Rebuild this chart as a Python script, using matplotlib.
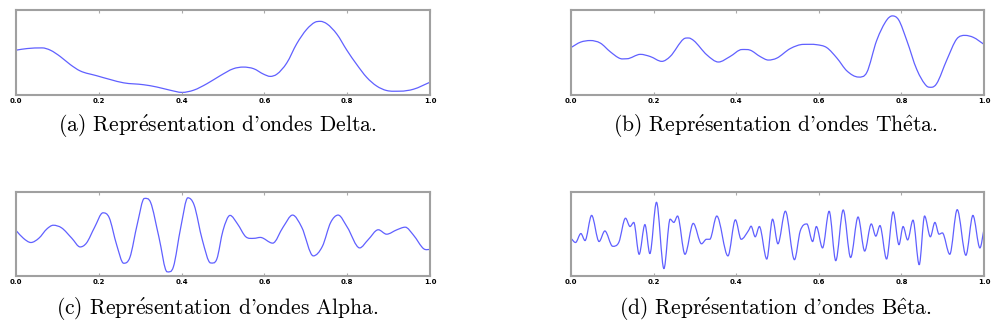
import matplotlib
matplotlib.use("Agg")
import matplotlib.pyplot as plt
import numpy as np
from matplotlib.path import Path
from matplotlib.patches import PathPatch

# --- values (time fraction, normalised amplitude) ---
delta_t = [0.000, 0.027, 0.063, 0.083, 0.107, 0.131, 0.155, 0.195, 0.228, 0.260,
           0.308, 0.340, 0.372, 0.401, 0.429, 0.461, 0.493, 0.525, 0.549, 0.574,
           0.598, 0.614, 0.630, 0.654, 0.678, 0.702, 0.722, 0.735, 0.751, 0.775,
           0.799, 0.823, 0.847, 0.871, 0.895, 0.928, 0.960, 1.000]
delta_v = [0.529, 0.549, 0.557, 0.529, 0.451, 0.353, 0.275, 0.216, 0.169, 0.129,
           0.106, 0.078, 0.039, 0.012, 0.039, 0.118, 0.216, 0.302, 0.322, 0.302,
           0.235, 0.208, 0.235, 0.373, 0.608, 0.784, 0.871, 0.882, 0.851, 0.725,
           0.529, 0.353, 0.196, 0.090, 0.035, 0.027, 0.051, 0.137]

theta_t = [0.000, 0.023, 0.047, 0.071, 0.095, 0.119, 0.135, 0.168, 0.192, 0.220,
           0.240, 0.273, 0.285, 0.297, 0.329, 0.357, 0.385, 0.414, 0.434, 0.458,
           0.478, 0.498, 0.531, 0.563, 0.595, 0.619, 0.644, 0.668, 0.696, 0.716,
           0.740, 0.765, 0.778, 0.793, 0.813, 0.837, 0.861, 0.873, 0.885, 0.910,
           0.934, 0.954, 0.974, 1.000]
theta_v = [0.561, 0.627, 0.647, 0.616, 0.510, 0.427, 0.424, 0.478, 0.451, 0.392,
           0.451, 0.667, 0.678, 0.647, 0.471, 0.384, 0.451, 0.537, 0.529, 0.451,
           0.408, 0.431, 0.549, 0.600, 0.596, 0.561, 0.431, 0.275, 0.200, 0.255,
           0.647, 0.902, 0.949, 0.902, 0.647, 0.294, 0.090, 0.075, 0.118, 0.412,
           0.667, 0.710, 0.686, 0.600]

alpha_t = [0.000, 0.018, 0.036, 0.055, 0.075, 0.090, 0.110, 0.135, 0.155, 0.170,
           0.190, 0.210, 0.225, 0.243, 0.260, 0.275, 0.293, 0.310, 0.325, 0.345,
           0.365, 0.380, 0.398, 0.415, 0.430, 0.450, 0.470, 0.485, 0.500, 0.517,
           0.535, 0.555, 0.575, 0.590, 0.620, 0.645, 0.668, 0.690, 0.718, 0.740,
           0.760, 0.778, 0.800, 0.830, 0.850, 0.875, 0.895, 0.920, 0.940, 0.960,
           0.985, 1.000]
alpha_v = [0.545, 0.447, 0.395, 0.447, 0.565, 0.609, 0.577, 0.447, 0.340, 0.387,
           0.585, 0.763, 0.704, 0.368, 0.138, 0.209, 0.625, 0.941, 0.893, 0.466,
           0.032, 0.091, 0.585, 0.949, 0.862, 0.427, 0.142, 0.190, 0.545, 0.731,
           0.625, 0.466, 0.447, 0.458, 0.387, 0.585, 0.735, 0.585, 0.229, 0.348,
           0.644, 0.735, 0.585, 0.328, 0.427, 0.553, 0.498, 0.553, 0.585, 0.486,
           0.316, 0.308]

beta_t = [0.000, 0.011, 0.024, 0.034, 0.050, 0.068, 0.082, 0.101, 0.116, 0.132,
          0.143, 0.152, 0.165, 0.179, 0.191, 0.207, 0.225, 0.240, 0.249, 0.258,
          0.276, 0.296, 0.316, 0.328, 0.336, 0.353, 0.380, 0.398, 0.412, 0.430,
          0.436, 0.446, 0.456, 0.474, 0.488, 0.501, 0.519, 0.541, 0.555, 0.571,
          0.585, 0.594, 0.609, 0.625, 0.641, 0.659, 0.677, 0.695, 0.711, 0.727,
          0.738, 0.748, 0.764, 0.780, 0.794, 0.804, 0.815, 0.828, 0.843, 0.856,
          0.870, 0.881, 0.891, 0.899, 0.917, 0.935, 0.956, 0.973, 0.990, 1.000]
beta_v = [0.447, 0.395, 0.506, 0.419, 0.731, 0.407, 0.538, 0.348, 0.399, 0.696,
          0.593, 0.644, 0.249, 0.617, 0.257, 0.893, 0.071, 0.684, 0.644, 0.723,
          0.249, 0.632, 0.379, 0.435, 0.435, 0.723, 0.229, 0.676, 0.435, 0.545,
          0.597, 0.466, 0.593, 0.190, 0.684, 0.379, 0.783, 0.182, 0.538, 0.625,
          0.407, 0.593, 0.328, 0.783, 0.170, 0.798, 0.209, 0.711, 0.289, 0.625,
          0.474, 0.605, 0.190, 0.775, 0.368, 0.593, 0.427, 0.672, 0.119, 0.723,
          0.466, 0.644, 0.498, 0.514, 0.249, 0.802, 0.237, 0.731, 0.328, 0.565]

ticks = [0.0, 0.2, 0.4, 0.6, 0.8, 1.0]
tick_labels = ["0.0", "0.2", "0.4", "0.6", "0.8", "1.0"]

captions = [
    r"(a) Repr$\acute{\mathrm{e}}$sentation d'ondes Delta.",
    r"(b) Repr$\acute{\mathrm{e}}$sentation d'ondes Th$\hat{\mathrm{e}}$ta.",
    r"(c) Repr$\acute{\mathrm{e}}$sentation d'ondes Alpha.",
    r"(d) Repr$\acute{\mathrm{e}}$sentation d'ondes B$\hat{\mathrm{e}}$ta.",
]
series = [(delta_t, delta_v), (theta_t, theta_v),
          (alpha_t, alpha_v), (beta_t, beta_v)]


def smooth_line(ax, t, v, **kw):
    """Draw a smooth cubic Bezier path through the read points
    (flat tangent at each local extremum)."""
    t = np.asarray(t, float)
    v = np.asarray(v, float)
    d = np.diff(v) / np.diff(t)
    m = np.zeros_like(v)
    m[0], m[-1] = d[0], d[-1]
    for i in range(1, len(v) - 1):
        if d[i - 1] * d[i] > 0:
            m[i] = 0.5 * (d[i - 1] + d[i])
    verts = [(t[0], v[0])]
    codes = [Path.MOVETO]
    for i in range(len(t) - 1):
        h = (t[i + 1] - t[i]) / 3
        verts += [(t[i] + h, v[i] + m[i] * h),
                  (t[i + 1] - h, v[i + 1] - m[i + 1] * h),
                  (t[i + 1], v[i + 1])]
        codes += [Path.CURVE4] * 3
    ax.add_patch(PathPatch(Path(verts, codes), fill=False, **kw))


plt.rcParams["mathtext.fontset"] = "cm"
plt.rcParams["axes.unicode_minus"] = False

fig = plt.figure(figsize=(9.93, 3.33), dpi=100)

# axes boxes in figure fraction: left, bottom, width, height
boxes = [
    (0.0161, 0.7147, 0.417, 0.255),
    (0.5750, 0.7147, 0.416, 0.255),
    (0.0161, 0.1712, 0.417, 0.252),
    (0.5750, 0.1712, 0.416, 0.252),
]
caption_pos = [(0.219, 0.622), (0.781, 0.622), (0.219, 0.075), (0.781, 0.075)]

for box, (t, v), cap, cpos in zip(boxes, series, captions, caption_pos):
    ax = fig.add_axes(box)
    smooth_line(ax, t, v, edgecolor="#6060ff", lw=0.9)
    ax.set_xlim(0, 1)
    ax.set_ylim(-0.02, 1.02)
    ax.set_xticks(ticks)
    ax.set_xticklabels(tick_labels, fontsize=5, fontweight="bold")
    ax.set_yticks([])
    ax.tick_params(axis="x", direction="in", top=True, length=2.5,
                   width=0.8, color="#aaaaaa", pad=2)
    for sp in ax.spines.values():
        sp.set_color("#a0a0a0")
        sp.set_linewidth(1.5)
    fig.text(cpos[0], cpos[1], cap, ha="center", va="center",
             fontsize=15.5, family=["cmr10", "DejaVu Serif"])

fig.savefig("out.png", dpi=100)
